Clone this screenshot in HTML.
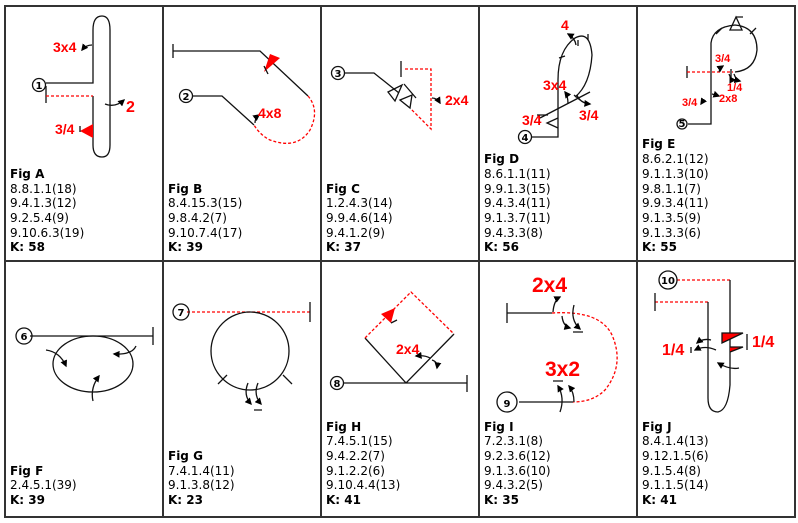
<!DOCTYPE html>
<html><head><meta charset="utf-8"><style>
html,body{margin:0;padding:0;background:#fff;width:798px;height:523px;overflow:hidden}
svg{display:block}
.t{font-family:"DejaVu Sans","Liberation Sans",sans-serif;font-size:12px;fill:#000}
.b{font-weight:bold}
.r{font-family:"Liberation Sans",Arial,sans-serif;font-weight:bold;fill:#f00}
.k{stroke:#111;stroke-width:1.3;fill:none}
.d{stroke:#f00;stroke-width:1.3;fill:none;stroke-dasharray:3,2}
.n{font-family:"DejaVu Sans",sans-serif;font-weight:bold;font-size:10px;text-anchor:middle}
</style></head><body>
<svg width="798" height="523" viewBox="0 0 798 523">
<defs>
<marker id="a" viewBox="0 0 10 10" refX="8" refY="5" markerWidth="7" markerHeight="7" markerUnits="userSpaceOnUse" orient="auto"><path d="M0,0L10,5L0,10z" fill="#000"/></marker>
</defs>
<g stroke="#333" stroke-width="2" fill="none">
<rect x="5" y="6" width="790" height="511"/>
<line x1="5" y1="261" x2="795" y2="261"/>
<line x1="163" y1="6" x2="163" y2="517"/>
<line x1="321" y1="6" x2="321" y2="517"/>
<line x1="479" y1="6" x2="479" y2="517"/>
<line x1="637" y1="6" x2="637" y2="517"/>
</g>

<!-- Fig A -->
<path class="k" d="M46,83H93V30Q93,16 102,16Q110,16 110,30V145Q110,157 102,157Q93,157 93,145V96"/>
<path class="k" d="M46,86V103"/>
<path class="d" d="M46,96H93"/>
<circle cx="39" cy="85" r="6.5" class="k" fill="#fff"/><text x="39" y="89" class="n">1</text>
<polygon points="80,131 93,124 93,138" fill="#f00"/>
<path class="k" d="M80,126V132"/>
<path class="k" d="M92,45Q86,45 82,50" marker-end="url(#a)"/>
<path class="k" d="M105,104Q115,108 124,100" marker-end="url(#a)"/>
<text x="53" y="52" class="r" font-size="14">3x4</text>
<text x="126" y="112" class="r" font-size="16">2</text>
<text x="55" y="134" class="r" font-size="14">3/4</text>

<!-- Fig B -->
<path class="k" d="M173,44V58M173,51H260L308,96"/>
<path class="k" d="M192,96H222L254,125"/>
<path class="d" d="M308,96Q320,110 310,130Q297,150 270,140Q260,135 254,125"/>
<circle cx="186" cy="96" r="6.5" class="k" fill="#fff"/><text x="186" y="100" class="n">2</text>
<polygon points="264,72 280,58 270,54" fill="#f00"/>
<path class="k" d="M264,66L268,74"/>
<path class="k" d="M255,123Q255,118 259,115" marker-end="url(#a)"/>
<text x="258" y="118" class="r" font-size="14">4x8</text>

<!-- Fig C -->
<path class="k" d="M344,73H374L399,93"/>
<path class="k" d="M388,92L402,85L395,101Z M400,100L412,95L410,108Z M404,84L416,98"/>
<path class="k" d="M401,61V77"/>
<path class="d" d="M405,69H431V129L411,109"/>
<circle cx="338" cy="73" r="6.5" class="k" fill="#fff"/><text x="338" y="77" class="n">3</text>
<path class="k" d="M432,98Q437,98 440,103" marker-end="url(#a)"/>
<text x="445" y="105" class="r" font-size="14">2x4</text>

<!-- Fig D -->
<path class="k" d="M531,137H558V80Q558,50 575,38Q590,30 592,55Q590,85 575,97"/>
<path class="k" d="M590,92L540,118"/>
<path class="k" d="M558,118L547,123L558,128"/>
<path class="k" d="M537,115H548M559,58L565,56M578,46V40M588,40V34M574,95L580,100"/>
<circle cx="525" cy="137" r="6.5" class="k" fill="#fff"/><text x="525" y="141" class="n">4</text>
<path class="k" d="M576,45Q575,38 568,34" marker-end="url(#a)"/>
<path class="k" d="M568,104Q568,96 565,92" marker-end="url(#a)"/>
<path class="k" d="M577,95Q580,103 590,104" marker-end="url(#a)"/>
<text x="561" y="30" class="r" font-size="14">4</text>
<text x="543" y="90" class="r" font-size="14">3x4</text>
<text x="522" y="125" class="r" font-size="14">3/4</text>
<text x="579" y="120" class="r" font-size="14">3/4</text>

<!-- Fig E -->
<path class="k" d="M688,124H711V43Q713,27 735,25Q757,27 757,50Q755,70 735,72"/>
<path class="k" d="M730,30H742L736,17Z M736,17H743M716,34L722,28M750,34L756,28M731,69V78"/>
<path class="k" d="M687,66V78"/>
<path class="d" d="M687,72H733"/>
<circle cx="682" cy="124" r="5" class="k" fill="#fff"/><text x="682" y="127" class="n" font-size="8">5</text>
<path class="k" d="M719,72Q720,68 723,66" marker-end="url(#a)"/>
<path class="k" d="M729,74Q731,80 735,80" marker-end="url(#a)"/>
<path class="k" d="M734,74Q736,80 740,81" marker-end="url(#a)"/>
<path class="k" d="M712,94Q716,95 719,96" marker-end="url(#a)"/>
<path class="k" d="M705,100Q703,101 701,104" marker-end="url(#a)"/>
<text x="715" y="62" class="r" font-size="11">3/4</text>
<text x="727" y="91" class="r" font-size="11">1/4</text>
<text x="719" y="102" class="r" font-size="11">2x8</text>
<text x="682" y="106" class="r" font-size="11">3/4</text>

<!-- Fig F -->
<path class="k" d="M30,336H153M153,327V345"/>
<ellipse cx="93" cy="364" rx="40" ry="28" class="k"/>
<circle cx="24" cy="336" r="8" class="k" fill="#fff"/><text x="24" y="340" class="n" font-size="11">6</text>
<path class="k" d="M46,350Q60,352 66,366" marker-end="url(#a)"/>
<path class="k" d="M136,346Q132,355 114,354" marker-end="url(#a)"/>
<path class="k" d="M93,401Q90,388 99,376" marker-end="url(#a)"/>

<!-- Fig G -->
<path class="d" d="M187,312H310"/>
<path class="k" d="M310,302V322"/>
<circle cx="250" cy="351" r="39" class="k"/>
<path class="k" d="M218,384L227,375M283,375L292,384M254,410H262"/>
<circle cx="181" cy="312" r="8" class="k" fill="#fff"/><text x="181" y="316" class="n" font-size="11">7</text>
<path class="k" d="M248,383Q243,395 251,404" marker-end="url(#a)"/>
<path class="k" d="M258,383Q253,395 261,404" marker-end="url(#a)"/>

<!-- Fig H -->
<path class="k" d="M344,383H467M467,375V392M406,383L365,338M406,383L454,334"/>
<path class="d" d="M365,338L411,292L454,334"/>
<polygon points="381,314 395,308 391,323" fill="#f00"/>
<path class="k" d="M391,323L397,320"/>
<circle cx="337" cy="383" r="6.5" class="k" fill="#fff"/><text x="337" y="387" class="n">8</text>
<path class="k" d="M430,358Q425,355 416,356" marker-end="url(#a)"/>
<path class="k" d="M432,360Q438,362 437,368" marker-end="url(#a)"/>
<text x="396" y="354" class="r" font-size="14">2x4</text>

<!-- Fig I -->
<path class="k" d="M507,303V323M507,313H552M519,402H573"/>
<path class="d" d="M552,313Q600,310 612,335Q625,365 605,390Q593,402 573,402"/>
<circle cx="507" cy="402" r="10" class="k" fill="#fff"/><text x="507" y="407" class="n" font-size="14">9</text>
<path class="k" d="M553,312Q554,300 560,297" marker-end="url(#a)"/>
<path class="k" d="M562,316Q563,326 570,328" marker-end="url(#a)"/>
<path class="k" d="M574,305Q570,320 580,329" marker-end="url(#a)"/>
<path class="k" d="M573,332H583M553,381H563"/>
<path class="k" d="M560,412Q565,398 558,386" marker-end="url(#a)"/>
<path class="k" d="M574,402Q574,392 569,386" marker-end="url(#a)"/>
<text x="532" y="292" class="r" font-size="21">2x4</text>
<text x="545" y="376" class="r" font-size="21">3x2</text>

<!-- Fig J -->
<path class="d" d="M677,280H730M655,302H708"/>
<path class="k" d="M655,293V311M730,280V385Q728,410 718,412Q708,412 708,398V302"/>
<polygon points="722,333 743,333 722,343" fill="#f00"/>
<polygon points="730,347 743,347 730,352" fill="#f00"/>
<path class="k" d="M722,333H743L722,343Z M730,347H743L730,352M747,334V350M691,347V353"/>
<circle cx="668" cy="280" r="9" class="k" fill="#fff"/><text x="668" y="284" class="n" font-size="11">10</text>
<path class="k" d="M711,340Q703,338 697,343" marker-end="url(#a)"/>
<path class="k" d="M716,350Q705,345 695,350" marker-end="url(#a)"/>
<path class="k" d="M739,368Q730,370 718,363" marker-end="url(#a)"/>
<text x="662" y="355" class="r" font-size="16">1/4</text>
<text x="752" y="347" class="r" font-size="16">1/4</text>

<!-- Text blocks -->
<g class="t">
<text x="10" y="178" class="b">Fig A</text><text x="10" y="193">8.8.1.1(18)</text><text x="10" y="207">9.4.1.3(12)</text><text x="10" y="222">9.2.5.4(9)</text><text x="10" y="237">9.10.6.3(19)</text><text x="10" y="251" class="b">K: 58</text>
<text x="168" y="193" class="b">Fig B</text><text x="168" y="207">8.4.15.3(15)</text><text x="168" y="222">9.8.4.2(7)</text><text x="168" y="237">9.10.7.4(17)</text><text x="168" y="251" class="b">K: 39</text>
<text x="326" y="193" class="b">Fig C</text><text x="326" y="207">1.2.4.3(14)</text><text x="326" y="222">9.9.4.6(14)</text><text x="326" y="237">9.4.1.2(9)</text><text x="326" y="251" class="b">K: 37</text>
<text x="484" y="163" class="b">Fig D</text><text x="484" y="178">8.6.1.1(11)</text><text x="484" y="193">9.9.1.3(15)</text><text x="484" y="207">9.4.3.4(11)</text><text x="484" y="222">9.1.3.7(11)</text><text x="484" y="237">9.4.3.3(8)</text><text x="484" y="251" class="b">K: 56</text>
<text x="642" y="148" class="b">Fig E</text><text x="642" y="163">8.6.2.1(12)</text><text x="642" y="178">9.1.1.3(10)</text><text x="642" y="193">9.8.1.1(7)</text><text x="642" y="207">9.9.3.4(11)</text><text x="642" y="222">9.1.3.5(9)</text><text x="642" y="237">9.1.3.3(6)</text><text x="642" y="251" class="b">K: 55</text>
<text x="10" y="475" class="b">Fig F</text><text x="10" y="489">2.4.5.1(39)</text><text x="10" y="504" class="b">K: 39</text>
<text x="168" y="460" class="b">Fig G</text><text x="168" y="475">7.4.1.4(11)</text><text x="168" y="489">9.1.3.8(12)</text><text x="168" y="504" class="b">K: 23</text>
<text x="326" y="431" class="b">Fig H</text><text x="326" y="445">7.4.5.1(15)</text><text x="326" y="460">9.4.2.2(7)</text><text x="326" y="475">9.1.2.2(6)</text><text x="326" y="489">9.10.4.4(13)</text><text x="326" y="504" class="b">K: 41</text>
<text x="484" y="431" class="b">Fig I</text><text x="484" y="445">7.2.3.1(8)</text><text x="484" y="460">9.2.3.6(12)</text><text x="484" y="475">9.1.3.6(10)</text><text x="484" y="489">9.4.3.2(5)</text><text x="484" y="504" class="b">K: 35</text>
<text x="642" y="431" class="b">Fig J</text><text x="642" y="445">8.4.1.4(13)</text><text x="642" y="460">9.12.1.5(6)</text><text x="642" y="475">9.1.5.4(8)</text><text x="642" y="489">9.1.1.5(14)</text><text x="642" y="504" class="b">K: 41</text>
</g>
</svg>
</body></html>
